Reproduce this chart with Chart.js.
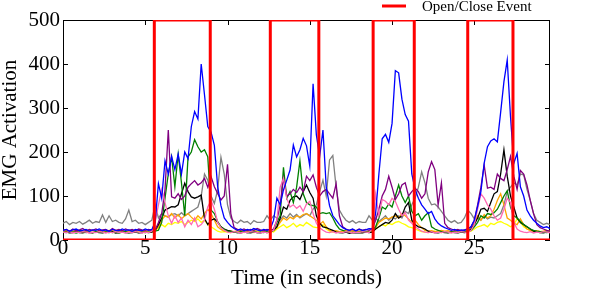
<!DOCTYPE html>
<html>
<head>
<meta charset="utf-8">
<script src="https://cdn.jsdelivr.net/npm/chart.js@4.4.1/dist/chart.umd.min.js"></script>
<style>
  html, body { margin: 0; padding: 0; background: #fff; }
  #wrap { width: 598px; height: 303px; }
</style>
</head>
<body>
<div id="wrap"><canvas id="emg-chart" width="598" height="303"></canvas></div>
<script>
(function () {
    "use strict";

    // one sample every 0.2 s
    const SAMPLE_STEP = 0.2;

    const emgBlue = [
        22, 24, 20, 23, 25, 21, 22, 24, 20, 23,
        22, 25, 21, 23, 20, 24, 22, 21, 25, 22,
        23, 20, 24, 22, 21, 25, 22, 24, 40, 128,
        95, 180, 150, 190, 160, 195, 150, 200, 185, 258,
        292, 275, 400, 330, 258, 245, 215, 121, 78, 50,
        40, 32, 26, 22, 25, 21, 24, 22, 26, 23,
        21, 24, 22, 25, 45, 95, 80, 114, 136, 159,
        216, 189, 205, 231, 214, 168, 355, 239, 190, 250,
        120, 78, 55, 45, 35, 28, 24, 22, 25, 21,
        24, 22, 23, 26, 25, 60, 150, 230, 240, 222,
        265, 385, 380, 320, 285, 270, 150, 115, 95, 80,
        70, 60, 65, 48, 38, 32, 28, 25, 22, 24,
        21, 23, 22, 25, 30, 45, 76, 110, 175, 212,
        225, 230, 223, 290, 360, 409, 280, 174, 197, 121,
        100, 68, 55, 45, 38, 32, 28, 30, 26
    ];
    const emgGreen = [
        18, 17, 19, 18, 16, 18, 19, 17, 18, 17,
        19, 18, 17, 18, 19, 17, 18, 16, 18, 19,
        17, 18, 19, 17, 18, 17, 18, 20, 20, 22,
        40, 95, 150, 189, 121, 195, 130, 55, 189, 200,
        228, 212, 200, 205, 189, 68, 60, 42, 30, 24,
        20, 19, 18, 17, 19, 18, 17, 18, 19, 17,
        18, 17, 19, 18, 22, 40, 55, 165, 95, 110,
        85, 120, 180, 105, 85, 80, 78, 75, 60, 62,
        60, 62, 50, 35, 25, 22, 19, 18, 17, 18,
        17, 19, 18, 18, 22, 30, 50, 75, 70, 82,
        75, 100, 125, 100, 85, 100, 65, 55, 60, 45,
        55, 62, 30, 25, 22, 19, 18, 17, 18, 19,
        17, 18, 19, 20, 22, 30, 40, 55, 50, 60,
        58, 62, 70, 85, 100, 112, 75, 55, 50, 42,
        35, 30, 25, 22, 20, 19, 18, 17, 18
    ];
    const emgPurple = [
        22, 24, 20, 25, 21, 23, 26, 21, 24, 22,
        25, 21, 23, 24, 20, 26, 22, 24, 21, 25,
        22, 24, 21, 25, 23, 22, 24, 22, 22, 40,
        60, 114, 250, 98, 95, 105, 92, 100, 120, 128,
        135, 125, 130, 140, 120, 144, 121, 106, 91, 100,
        172, 60, 28, 24, 22, 25, 21, 24, 22, 26,
        23, 21, 24, 22, 25, 45, 80, 140, 100, 105,
        115, 108, 120, 110, 145, 135, 148, 120, 100, 110,
        115, 105, 95, 128, 55, 30, 25, 22, 24, 21,
        25, 22, 24, 22, 25, 45, 70, 100, 115, 145,
        120, 92, 105, 125, 130, 100, 110, 118, 110, 95,
        105, 155, 178, 160, 80, 130, 38, 28, 25, 22,
        24, 21, 23, 25, 30, 45, 80, 120, 170, 118,
        120, 115, 150, 140, 135, 160, 190, 145, 115, 158,
        150, 125, 90, 60, 35, 28, 25, 22, 20
    ];
    const emgBlack = [
        17, 18, 16, 17, 19, 17, 16, 18, 17, 16,
        18, 17, 16, 18, 17, 19, 16, 17, 18, 17,
        16, 17, 18, 16, 17, 18, 17, 18, 22, 35,
        50, 68, 72, 76, 75, 80, 105, 129, 110, 98,
        95, 98, 102, 49, 35, 45, 48, 40, 30, 25,
        22, 20, 18, 17, 16, 18, 17, 16, 18, 17,
        16, 18, 17, 18, 22, 30, 50, 75, 70, 90,
        98, 100, 92, 110, 125, 108, 95, 55, 38, 30,
        28, 25, 22, 18, 17, 16, 18, 15, 17, 16,
        17, 16, 18, 17, 18, 25, 30, 35, 40, 38,
        45, 60, 50, 55, 75, 85, 45, 35, 30, 28,
        25, 20, 18, 17, 16, 18, 17, 16, 18, 17,
        16, 18, 17, 18, 25, 35, 50, 70, 72, 65,
        85, 105, 110, 150, 205, 145, 100, 75, 50, 40,
        35, 30, 25, 20, 18, 17, 16, 18, 17
    ];
    const emgGray = [
        38, 42, 35, 40, 38, 42, 36, 40, 45, 38,
        42, 40, 57, 40, 55, 42, 45, 40, 38, 48,
        68, 42, 45, 38, 40, 35, 40, 45, 80, 50,
        60, 55, 52, 58, 60, 55, 62, 55, 60, 65,
        70, 75, 100, 150, 136, 100, 83, 114, 188, 150,
        80, 50, 42, 38, 45, 40, 42, 36, 44, 40,
        40, 42, 55, 45, 55, 50, 45, 55, 50, 60,
        52, 58, 50, 55, 60, 55, 70, 80, 110, 136,
        100, 182, 192, 120, 68, 55, 45, 40, 44, 38,
        42, 40, 40, 55, 45, 50, 42, 48, 55, 45,
        52, 48, 55, 50, 65, 60, 80, 95, 120, 155,
        130, 95, 80, 82, 75, 65, 55, 45, 40, 44,
        38, 40, 50, 68, 60, 48, 50, 45, 55, 48,
        52, 50, 55, 60, 80, 110, 120, 130, 125, 150,
        148, 115, 90, 60, 45, 40, 35, 38, 35
    ];
    const emgPink = [
        18, 17, 19, 16, 18, 17, 19, 18, 16, 18,
        17, 19, 18, 16, 18, 17, 19, 17, 18, 16,
        18, 17, 19, 18, 16, 18, 17, 20, 40, 80,
        115, 85, 55, 38, 55, 40, 50, 30, 45, 35,
        50, 30, 35, 45, 75, 90, 70, 40, 28, 22,
        18, 17, 19, 18, 16, 18, 17, 19, 18, 17,
        16, 18, 17, 19, 22, 45, 120, 140, 95, 75,
        80, 72, 78, 65, 82, 88, 60, 38, 28, 22,
        18, 17, 19, 16, 18, 17, 19, 18, 16, 18,
        17, 19, 18, 17, 25, 105, 55, 92, 88, 80,
        95, 88, 70, 55, 62, 45, 38, 30, 25, 20,
        18, 17, 19, 16, 18, 17, 19, 18, 16, 18,
        17, 19, 18, 17, 22, 35, 70, 105, 95, 80,
        70, 55, 45, 50, 70, 95, 85, 40, 25, 20,
        18, 17, 19, 16, 18, 17, 19, 18, 17
    ];
    const emgOrange = [
        20, 21, 19, 20, 22, 20, 19, 21, 20, 22,
        20, 19, 21, 20, 22, 21, 19, 20, 21, 20,
        19, 21, 20, 22, 20, 19, 21, 22, 22, 30,
        45, 55, 52, 60, 50, 58, 48, 55, 60, 52,
        45, 55, 48, 60, 70, 60, 45, 30, 24, 20,
        21, 20, 19, 21, 20, 22, 20, 19, 21, 20,
        22, 20, 21, 19, 22, 28, 40, 50, 45, 52,
        48, 55, 52, 58, 60, 55, 50, 45, 35, 42,
        30, 22, 20, 21, 19, 20, 22, 20, 21, 19,
        20, 21, 19, 20, 22, 28, 40, 45, 50, 48,
        52, 55, 50, 60, 55, 48, 40, 45, 35, 28,
        22, 20, 21, 19, 20, 22, 20, 21, 19, 20,
        21, 19, 20, 22, 25, 40, 55, 45, 58, 50,
        55, 70, 90, 105, 80, 50, 45, 38, 35, 48,
        35, 25, 22, 20, 21, 19, 20, 22, 20
    ];
    const emgYellow = [
        18, 19, 17, 18, 20, 18, 17, 19, 18, 17,
        19, 18, 20, 17, 18, 19, 17, 18, 20, 18,
        17, 19, 18, 20, 18, 17, 19, 18, 20, 28,
        35, 30, 38, 35, 40, 38, 42, 35, 40, 45,
        42, 48, 40, 45, 35, 30, 25, 20, 18, 19,
        18, 17, 19, 18, 20, 17, 18, 19, 17, 18,
        19, 18, 17, 20, 18, 25, 30, 35, 28, 32,
        38, 30, 35, 32, 40, 35, 30, 28, 30, 35,
        25, 20, 18, 19, 17, 18, 20, 18, 17, 19,
        18, 17, 19, 18, 20, 25, 30, 35, 32, 38,
        35, 40, 42, 38, 35, 30, 28, 25, 22, 19,
        18, 17, 19, 20, 18, 17, 19, 18, 17, 19,
        18, 20, 17, 19, 20, 25, 30, 32, 35, 30,
        38, 35, 40, 42, 38, 35, 30, 35, 48, 40,
        30, 25, 22, 19, 18, 17, 19, 18, 17
    ];

    // open/close event: step trace between 0 and 500
    const eventTimes  = [0, 5.55, 5.55, 8.95, 8.95, 12.6, 12.6, 15.55, 15.55, 18.85, 18.85, 21.35, 21.35, 24.6, 24.6, 27.35, 27.35, 29.6];
    const eventLevels = [0, 0, 500, 500, 0, 0, 500, 500, 0, 0, 500, 500, 0, 0, 500, 500, 0, 0];

    const xTicks = [0, 5, 10, 15, 20, 25];
    const yTicks = [0, 100, 200, 300, 400, 500];

    const SERIF = "'Liberation Serif', 'DejaVu Serif', serif";

    const times = emgBlue.map((_, i) => +(i * SAMPLE_STEP).toFixed(1));
    const toPoints = (vals) => vals.map((v, i) => ({ x: times[i], y: v }));

    const emgLine = (vals, color, order) => ({
        data: toPoints(vals),
        borderColor: color,
        borderWidth: 1.3,
        pointRadius: 0,
        tension: 0,
        order: order,
    });

    // box around the plot + inward tick marks, matplotlib style
    const frameTicks = {
        id: "frameTicks",
        beforeDatasetsDraw(chart) {
            const { ctx, chartArea: a, scales: { x, y } } = chart;
            ctx.save();
            ctx.strokeStyle = "#000";
            ctx.lineWidth = 1;
            ctx.strokeRect(Math.round(a.left) + 0.5, Math.round(a.top) + 0.5,
                Math.round(a.width) - 1, Math.round(a.height) - 1);
            ctx.beginPath();
            xTicks.forEach((t) => {
                const px = Math.round(x.getPixelForValue(t)) + 0.5;
                ctx.moveTo(px, a.bottom); ctx.lineTo(px, a.bottom - 5);
                ctx.moveTo(px, a.top); ctx.lineTo(px, a.top + 5);
            });
            yTicks.forEach((t) => {
                const py = Math.round(y.getPixelForValue(t)) + 0.5;
                ctx.moveTo(a.left, py); ctx.lineTo(a.left + 5, py);
                ctx.moveTo(a.right, py); ctx.lineTo(a.right - 5, py);
            });
            ctx.stroke();
            ctx.restore();
        },
    };

    // legend sits above the top right of the plot
    const eventLegend = {
        id: "eventLegend",
        afterDraw(chart) {
            const { ctx, chartArea: a } = chart;
            ctx.save();
            ctx.strokeStyle = "#ff0000";
            ctx.lineWidth = 3;
            ctx.beginPath();
            ctx.moveTo(a.right - 168, 6);
            ctx.lineTo(a.right - 144, 6);
            ctx.stroke();
            ctx.fillStyle = "#000";
            ctx.font = "15px " + SERIF;
            ctx.textBaseline = "middle";
            ctx.textAlign = "left";
            ctx.fillText("Open/Close Event", a.right - 128, 7);
            ctx.restore();
        },
    };

    const ctx = document.getElementById("emg-chart").getContext("2d");
    new Chart(ctx, {
        type: "line",
        data: {
            datasets: [
                {
                    label: "Open/Close Event",
                    data: eventTimes.map((t, i) => ({ x: t, y: eventLevels[i] })),
                    borderColor: "#ff0000",
                    borderWidth: 3,
                    pointRadius: 0,
                    tension: 0,
                    order: 0,
                },
                emgLine(emgBlue, "#0000ff", 1),
                emgLine(emgPink, "#ff69b4", 2),
                emgLine(emgPurple, "#800080", 3),
                emgLine(emgGreen, "#008000", 4),
                emgLine(emgBlack, "#000000", 5),
                emgLine(emgOrange, "#ffa500", 6),
                emgLine(emgYellow, "#ffff00", 7),
                emgLine(emgGray, "#808080", 8),
            ],
        },
        options: {
            responsive: false,
            animation: false,
            layout: { padding: { top: 20, right: 48, left: 0, bottom: 0 } },
            plugins: {
                legend: { display: false },
                tooltip: { enabled: false },
            },
            scales: {
                x: {
                    type: "linear",
                    min: 0,
                    max: 29.6,
                    border: { display: false },
                    grid: { display: false, drawTicks: false },
                    afterBuildTicks: (s) => { s.ticks = xTicks.map((v) => ({ value: v })); },
                    ticks: {
                        color: "#000",
                        padding: -2,
                        maxRotation: 0,
                        font: { family: SERIF, size: 21, lineHeight: 1 },
                    },
                    afterFit: (s) => { s.height = 63; },
                    title: {
                        display: true,
                        text: "Time (in seconds)",
                        color: "#000",
                        font: { family: SERIF, size: 21, lineHeight: 1 },
                        padding: { top: 0, bottom: 14.5 },
                    },
                },
                y: {
                    min: 0,
                    max: 500,
                    border: { display: false },
                    grid: { display: false, drawTicks: false },
                    afterBuildTicks: (s) => { s.ticks = yTicks.map((v) => ({ value: v })); },
                    ticks: {
                        color: "#000",
                        padding: 3,
                        font: { family: SERIF, size: 21, lineHeight: 1 },
                    },
                    afterFit: (s) => { s.width = 63; },
                    title: {
                        display: true,
                        text: "EMG Activation",
                        color: "#000",
                        font: { family: SERIF, size: 21, lineHeight: 1 },
                        padding: { top: 0, bottom: 0 },
                    },
                },
            },
        },
        plugins: [frameTicks, eventLegend],
    });
})();
</script>
</body>
</html>
